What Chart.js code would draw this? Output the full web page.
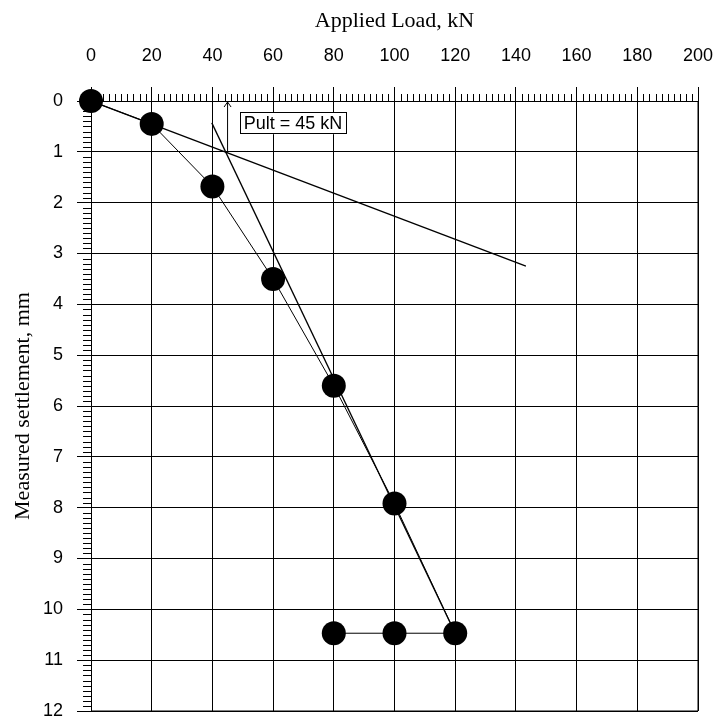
<!DOCTYPE html>
<html>
<head>
<meta charset="utf-8">
<script src="https://cdn.jsdelivr.net/npm/chart.js@4"></script>
<style>
html,body{margin:0;padding:0;background:#fff;}
canvas{display:block;}
</style>
</head>
<body>
<canvas id="c" width="718" height="723"></canvas>
<script>
// ---- data ----
const loads = [0, 20, 40, 60, 80, 100, 120, 100, 80];               // kN
const settlements = [0, 0.45, 1.68, 3.5, 5.6, 7.92, 10.47, 10.47, 10.47]; // mm

const initialTangentLoads = [0, 143.3];
const initialTangentSettlements = [0, 3.25];

const finalTangentLoads = [39.8, 120];
const finalTangentSettlements = [0.43, 10.47];

const pultLoads = [45, 45];
const pultSettlements = [1.02, 0.02];

const xTickLabels = [0, 20, 40, 60, 80, 100, 120, 140, 160, 180, 200];
const yTickLabels = [0, 1, 2, 3, 4, 5, 6, 7, 8, 9, 10, 11, 12];

const pultLabel = 'Pult = 45 kN';
const pultLabelAt = [49, 0.22]; // load, settlement of the label box corner

const toPts = (xs, ys) => xs.map((x, i) => ({x: x, y: ys[i]}));

const minorTicks = {
  id: 'minorTicks',
  afterDraw(chart) {
    const {ctx, chartArea: a, scales: {x, y}} = chart;
    ctx.save();
    ctx.strokeStyle = '#000';
    ctx.lineWidth = 1;
    ctx.beginPath();
    for (let v = 0; v <= 200; v += 2) {
      if (v % 20 === 0) continue;
      const px = Math.round(x.getPixelForValue(v)) + 0.5;
      ctx.moveTo(px, a.top - 7);
      ctx.lineTo(px, a.top);
    }
    for (let k = 0; k <= 120; k++) {
      if (k % 10 === 0) continue;
      const py = Math.round(y.getPixelForValue(k / 10)) + 0.5;
      ctx.moveTo(a.left - 8, py);
      ctx.lineTo(a.left, py);
    }
    ctx.stroke();
    // right and bottom frame
    ctx.beginPath();
    ctx.moveTo(a.left, a.bottom);
    ctx.lineTo(a.right, a.bottom);
    ctx.lineTo(a.right, a.top);
    ctx.stroke();
    // arrowhead at the top end of the Pult arrow
    const ax = x.getPixelForValue(pultLoads[1]);
    const ay = y.getPixelForValue(pultSettlements[1]);
    ctx.beginPath();
    ctx.moveTo(ax - 3.5, ay + 5);
    ctx.lineTo(ax, ay);
    ctx.lineTo(ax + 3.5, ay + 5);
    ctx.stroke();
    // label box
    const lx = x.getPixelForValue(pultLabelAt[0]);
    const ly = y.getPixelForValue(pultLabelAt[1]);
    ctx.font = '18px "Liberation Sans", Arial, sans-serif';
    const w = ctx.measureText(pultLabel).width;
    ctx.fillStyle = '#fff';
    ctx.fillRect(lx, ly, w + 8, 22);
    ctx.strokeRect(Math.round(lx) + 0.5, Math.round(ly) + 0.5, Math.round(w + 7), 21);
    ctx.fillStyle = '#000';
    ctx.textBaseline = 'middle';
    ctx.fillText(pultLabel, lx + 4, ly + 11.5);
    ctx.restore();
  }
};

new Chart(document.getElementById('c'), {
  type: 'scatter',
  data: {
    datasets: [
      {
        data: toPts(loads, settlements),
        showLine: true,
        clip: false,
        borderColor: '#000',
        borderWidth: 1,
        backgroundColor: '#000',
        pointRadius: 12,
        pointHoverRadius: 12,
        pointBorderWidth: 0,
        order: 1
      },
      {
        data: toPts(initialTangentLoads, initialTangentSettlements),
        showLine: true,
        borderColor: '#000',
        borderWidth: 1.3,
        pointRadius: 0,
        order: 2
      },
      {
        data: toPts(finalTangentLoads, finalTangentSettlements),
        showLine: true,
        borderColor: '#000',
        borderWidth: 1.3,
        pointRadius: 0,
        order: 2
      },
      {
        data: toPts(pultLoads, pultSettlements),
        showLine: true,
        borderColor: '#000',
        borderWidth: 1,
        pointRadius: 0,
        order: 2
      }
    ]
  },
  options: {
    responsive: false,
    animation: false,
    events: [],
    layout: {padding: {left: 0, top: 0, right: 20, bottom: 12}},
    plugins: {legend: {display: false}, tooltip: {enabled: false}},
    scales: {
      x: {
        type: 'linear',
        position: 'top',
        min: 0, max: 200,
        afterBuildTicks(s) { s.ticks = xTickLabels.map(v => ({value: v})); },
        afterFit(s) { s.height = 101; s.paddingLeft = 0; s.paddingRight = 0; },
        ticks: {
          color: '#000', autoSkip: false, maxRotation: 0, padding: 20,
          font: {family: '"Liberation Sans", Arial, sans-serif', size: 18}
        },
        grid: {color: '#000', lineWidth: 1, tickLength: 14, tickColor: '#000'},
        border: {color: '#000', width: 1},
        title: {
          display: true, text: 'Applied Load, kN', color: '#000',
          font: {family: '"Liberation Serif", "Times New Roman", serif', size: 22},
          padding: {top: 8, bottom: 0}
        }
      },
      y: {
        type: 'linear',
        reverse: true,
        min: 0, max: 12,
        afterBuildTicks(s) { s.ticks = yTickLabels.map(v => ({value: v})); },
        afterFit(s) { s.width = 91; s.paddingTop = 0; s.paddingBottom = 0; },
        ticks: {
          color: '#000', autoSkip: false, padding: 14,
          font: {family: '"Liberation Sans", Arial, sans-serif', size: 18}
        },
        grid: {color: '#000', lineWidth: 1, tickLength: 14, tickColor: '#000'},
        border: {color: '#000', width: 1},
        title: {
          display: true, text: 'Measured settlement, mm', color: '#000',
          font: {family: '"Liberation Serif", "Times New Roman", serif', size: 22},
          padding: {top: 10, bottom: 0}
        }
      }
    }
  },
  plugins: [minorTicks]
});
</script>
</body>
</html>
